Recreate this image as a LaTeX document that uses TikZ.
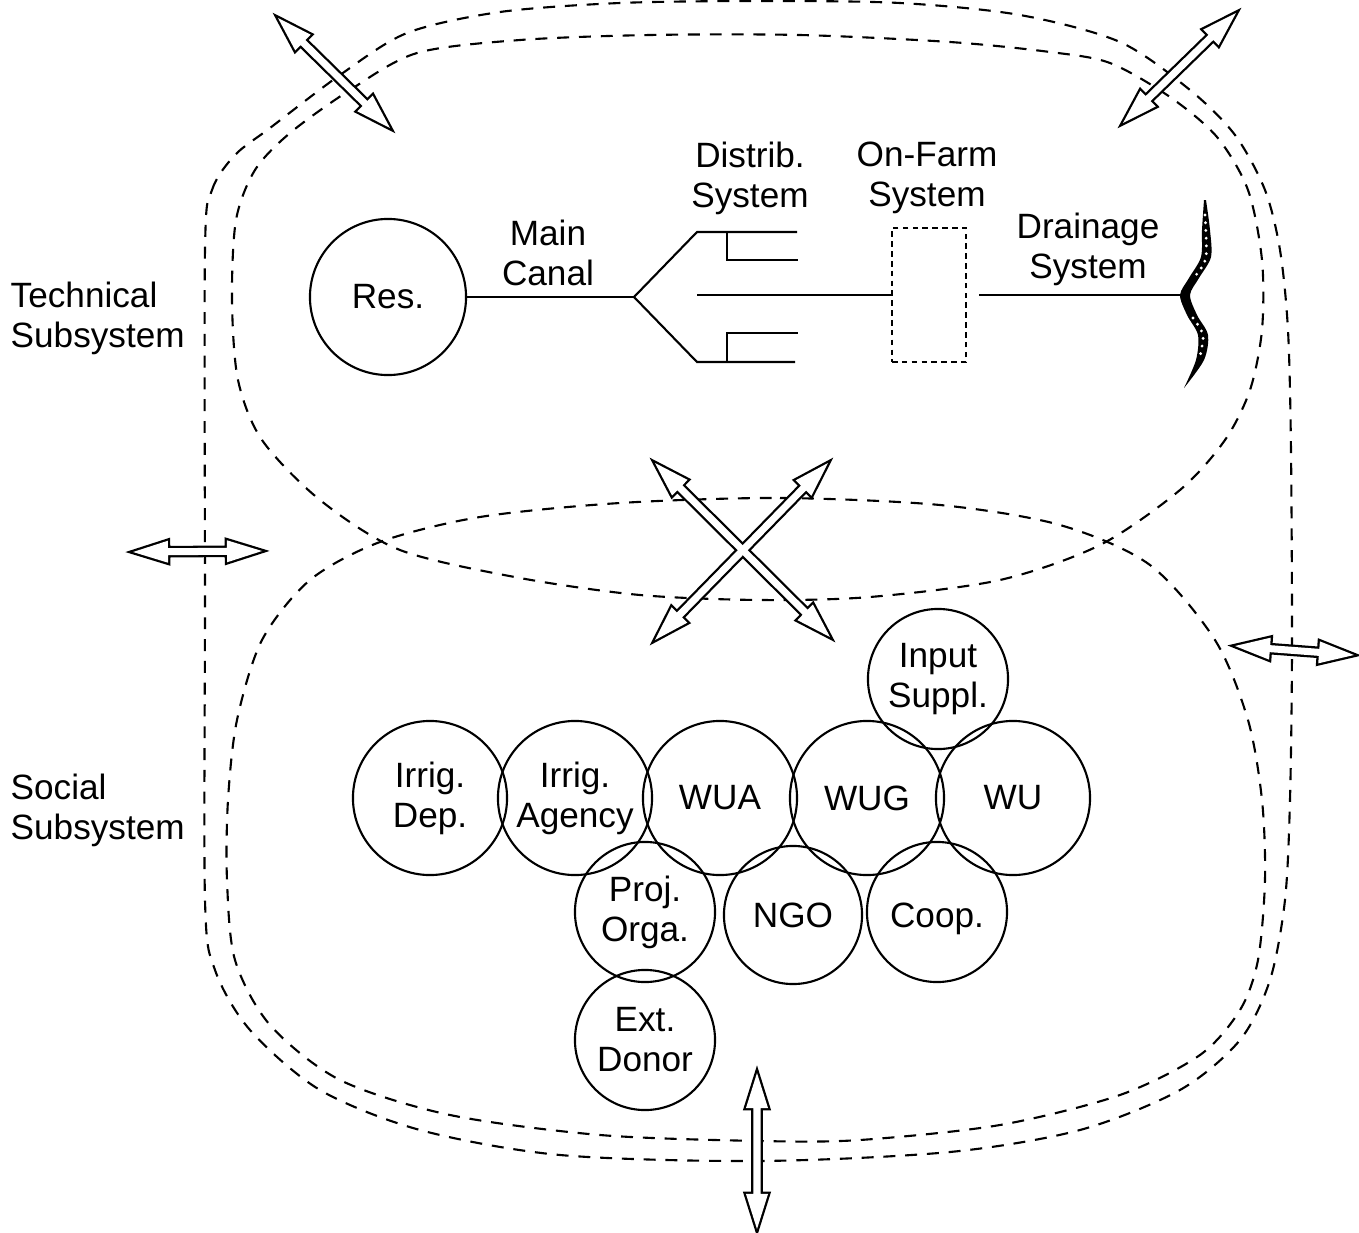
\documentclass[tikz,border=0pt]{standalone}
\usepackage{fontspec}
\setmainfont{Liberation Sans}
\usetikzlibrary{calc,positioning}

% hollow double-headed arrow: style, from, to
\newcommand{\dblarrow}[3]{%
  \path[#1] (#2)
    -- ($(#2)!0.35cm!(#3)!0.11cm!90:(#3)$)
    -- ($(#2)!0.35cm!(#3)!0.035cm!90:(#3)$)
    -- ($(#3)!0.35cm!(#2)!0.035cm!-90:(#2)$)
    -- ($(#3)!0.35cm!(#2)!0.11cm!-90:(#2)$)
    -- (#3)
    -- ($(#3)!0.35cm!(#2)!0.11cm!90:(#2)$)
    -- ($(#3)!0.35cm!(#2)!0.035cm!90:(#2)$)
    -- ($(#2)!0.35cm!(#3)!0.035cm!-90:(#3)$)
    -- ($(#2)!0.35cm!(#3)!0.11cm!-90:(#3)$)
    -- cycle;}

\begin{document}
\begin{tikzpicture}[x=0.01cm, y=-0.01cm,
  txt/.style={font=\fontsize{10}{11.4}\selectfont, align=center, inner sep=0pt},
  agent/.style={txt, circle, draw, line width=0.6pt, minimum size=1.54cm},
  subagent/.style={agent, minimum size=1.40cm},
  loopline/.style={line width=0.6pt, dash pattern=on 3.4pt off 2.8pt},
  canal/.style={line width=0.6pt},
  arrowline/.style={draw, line width=1.3pt},
  arrowfill/.style={fill=white},
]
\useasboundingbox (0,0) rectangle (1359,1233);

% boundaries
\draw[loopline] plot[smooth cycle] coordinates {(205,250) (212,190) (235,155) (270,128)
  (340,75) (407,33) (500,12) (620,3) (760,1) (900,3) (1020,15) (1120,42) (1190,90)
  (1235,135) (1265,190) (1280,250) (1288,330) (1291,450) (1292,650) (1290,800) (1285,900)
  (1270,980) (1240,1040) (1180,1090) (1080,1130) (950,1152) (760,1161) (560,1155)
  (420,1130) (320,1090) (250,1030) (215,970) (205,900) (205,600)};
\draw[loopline] plot[smooth cycle] coordinates {(290,133) (350,90) (417,53) (520,40)
  (650,35) (800,35) (950,42) (1050,52) (1110,63) (1170,97) (1217,137) (1248,190)
  (1262,260) (1262,330) (1250,390) (1225,440) (1180,490) (1100,545) (1000,580)
  (870,597) (760,600) (640,595) (520,578) (400,550) (320,500) (262,440) (238,380)
  (232,300) (236,220) (255,170)};
\draw[loopline] plot[smooth cycle] coordinates {(620,503) (780,498) (940,505) (1060,525)
  (1150,565) (1215,640) (1248,720) (1262,800) (1265,880) (1258,960) (1240,1010)
  (1200,1055) (1120,1095) (1000,1125) (860,1140) (760,1141) (600,1135) (450,1115)
  (340,1080) (270,1025) (235,960) (227,880) (228,800) (237,720) (262,640) (310,580)
  (380,542) (480,517)};

\node[txt, anchor=west, align=left] (techlbl) at (10,318) {Technical\\Subsystem};
\node[txt, anchor=west, align=left] (soclbl) at (10,810) {Social\\Subsystem};

% technical subsystem
\node[agent, minimum size=1.56cm] (res) at (388,297) {Res.};
\node[draw, line width=0.8pt, dash pattern=on 1.6pt off 1.2pt, minimum width=0.74cm,
  minimum height=1.34cm, inner sep=0pt] (farm) at (929,295) {};
\coordinate (fork) at (634,297);
\coordinate (upper) at (697,232);
\coordinate (lower) at (697,362);
\coordinate (middle) at (697,295);
\coordinate (drain) at (1186,295);
\draw[canal] (res.east) -- (fork);
\draw[canal] (fork) -- (upper) -- ++(100,0);
\draw[canal] (fork) -- (lower) -- ++(98,0);
\draw[canal] (727,232) |- (798,260);
\draw[canal] (727,362) |- (798,333);
\draw[canal] (middle) -- (farm.west);
\draw[canal] ([xshift=0.12cm]farm.east) -- (drain);

\fill plot[smooth] coordinates {(1204,200) (1202,230) (1201,257) (1189,278) (1180,295)
  (1187,315) (1198,335) (1196,360) (1184,388)}
  -- plot[smooth] coordinates {(1184,388) (1204,360) (1208,335) (1197,315) (1190,295)
  (1199,278) (1211,257) (1210,230) (1206,200)} -- cycle;
\draw[white, line width=0.9pt, line cap=round, dash pattern=on 0pt off 2.2pt]
  plot[smooth] coordinates {(1205,215) (1206,257) (1196,275)};
\draw[white, line width=0.9pt, line cap=round, dash pattern=on 0pt off 2.2pt]
  plot[smooth] coordinates {(1193,318) (1203,335) (1200,356)};

\node[txt] (canallbl) at (548,253) {Main\\Canal};
\node[txt] (distlbl) at (750,178) {Distrib.\\System};
\node[txt] (farmlbl) at (927,178) {On-Farm\\System};
\node[txt] (drainlbl) at (1088,249) {Drainage\\System};

% social subsystem
\node[agent] (dep) at (430,798) {Irrig.\\Dep.};
\node[agent] (agency) at (575,798) {Irrig.\\Agency};
\node[agent] (wua) at (720,798) {WUA};
\node[agent] (wug) at (867,798) {WUG};
\node[agent] (wu) at (1013,798) {WU};
\node[subagent] (input) at (938,679) {Input\\Suppl.};
\node[subagent] (proj) at (645,912) {Proj.\\Orga.};
\node[subagent, minimum size=1.38cm] (ngo) at (793,915) {NGO};
\node[subagent] (coop) at (937,912) {\raisebox{-2pt}[\height][\depth]{Coop.}};
\node[subagent] (donor) at (645,1040) {Ext.\\Donor};

% exchange arrows
\coordinate (tl1) at (278,18);   \coordinate (tl2) at (390,128);
\coordinate (tr1) at (1236,13);  \coordinate (tr2) at (1123,123);
\coordinate (xa1) at (655,463);  \coordinate (xa2) at (830,637);
\coordinate (xb1) at (828,463);  \coordinate (xb2) at (655,640);
\coordinate (lf1) at (133,552);  \coordinate (lf2) at (262,551);
\coordinate (rt1) at (1235,646); \coordinate (rt2) at (1354,655);
\coordinate (bt1) at (757,1073); \coordinate (bt2) at (757,1229);
\foreach \a/\b in {tl1/tl2, tr1/tr2, xa1/xa2, xb1/xb2, lf1/lf2, rt1/rt2, bt1/bt2}
  \dblarrow{arrowline}{\a}{\b};
\foreach \a/\b in {tl1/tl2, tr1/tr2, xa1/xa2, xb1/xb2, lf1/lf2, rt1/rt2, bt1/bt2}
  \dblarrow{arrowfill}{\a}{\b};
\end{tikzpicture}
\end{document}
